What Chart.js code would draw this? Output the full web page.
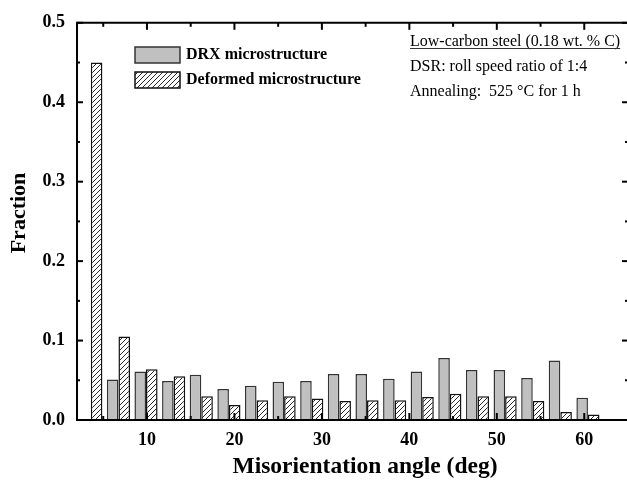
<!DOCTYPE html>
<html><head><meta charset="utf-8">
<script src="https://cdn.jsdelivr.net/npm/chart.js@4"></script>
<style>html,body{margin:0;padding:0;background:#fff;overflow:hidden}
#wrap{position:relative;width:629px;height:487px}</style>
</head><body><div id="wrap"><canvas id="c"></canvas></div>
<script>
// ---- data ----
const binCenters = [3.58, 6.74, 9.89, 13.05, 16.21, 19.37, 22.53, 25.68, 28.84, 32.00, 35.16, 38.32, 41.47, 44.63, 47.79, 50.95, 54.11, 57.26, 60.42];
const drxValues = [null, 0.051, 0.061, 0.049, 0.057, 0.039, 0.043, 0.048, 0.049, 0.058, 0.058, 0.052, 0.061, 0.078, 0.063, 0.063, 0.053, 0.075, 0.028];
const deformedValues = [0.450, 0.105, 0.064, 0.055, 0.030, 0.019, 0.025, 0.030, 0.027, 0.024, 0.025, 0.025, 0.029, 0.033, 0.030, 0.030, 0.024, 0.010, 0.007];
const seriesNames = ['DRX microstructure', 'Deformed microstructure'];
const xTicks = [10, 20, 30, 40, 50, 60];
const xMinorTicks = [5, 15, 25, 35, 45, 55, 65];
const yTicks = [0, 0.1, 0.2, 0.3, 0.4, 0.5];
const yMinorTicks = [0.05, 0.15, 0.25, 0.35, 0.45];
const xTitle = 'Misorientation angle (deg)';
const yTitle = 'Fraction';
const notes = ['Low-carbon steel (0.18 wt. % C)', 'DSR: roll speed ratio of 1:4', 'Annealing:  525 \u00B0C for 1 h'];

const FONT = "'Liberation Serif', 'Times New Roman', serif";
const canvas = document.getElementById('c');
const ctx = canvas.getContext('2d');

function makeHatch() {
  const s = 5;
  const c = document.createElement('canvas');
  c.width = s; c.height = s;
  const g = c.getContext('2d');
  g.fillStyle = '#fff'; g.fillRect(0, 0, s, s);
  g.strokeStyle = '#2a2a2a'; g.lineWidth = 1;
  g.beginPath();
  g.moveTo(0, s); g.lineTo(s, 0);
  g.moveTo(-1, 1); g.lineTo(1, -1);
  g.moveTo(s - 1, s + 1); g.lineTo(s + 1, s - 1);
  g.stroke();
  return ctx.createPattern(c, 'repeat');
}
const hatch = makeHatch();

const decor = {
  id: 'decor',
  afterDatasetsDraw(chart) {
    const c = chart.ctx, a = chart.chartArea;
    const xs = chart.scales.x, ys = chart.scales.y;
    c.save();
    c.strokeStyle = '#000';
    c.lineWidth = 2;
    // frame
    c.beginPath();
    c.moveTo(a.left, a.top); c.lineTo(a.left, a.bottom);
    c.lineTo(a.right, a.bottom); c.lineTo(a.right, a.top); c.closePath();
    c.stroke();
    // ticks (inward on all four sides)
    const tick = (x1, y1, x2, y2) => { c.beginPath(); c.moveTo(x1, y1); c.lineTo(x2, y2); c.stroke(); };
    xTicks.forEach(v => { const p = xs.getPixelForValue(v); tick(p, a.bottom, p, a.bottom - 7); tick(p, a.top, p, a.top + 7); });
    xMinorTicks.forEach(v => { const p = xs.getPixelForValue(v); tick(p, a.bottom, p, a.bottom - 4); tick(p, a.top, p, a.top + 4); });
    yTicks.forEach(v => { const p = ys.getPixelForValue(v); tick(a.left, p, a.left + 6, p); tick(a.right, p, a.right - 6, p); });
    yMinorTicks.forEach(v => { const p = ys.getPixelForValue(v); tick(a.left, p, a.left + 3, p); tick(a.right, p, a.right - 3, p); });
    c.restore();
  },
  afterDraw(chart) {
    const c = chart.ctx, a = chart.chartArea;
    c.save();
    c.fillStyle = '#000';
    // axis titles
    c.font = 'bold 23.5px ' + FONT;
    c.textAlign = 'center'; c.textBaseline = 'middle';
    c.fillText(xTitle, 365, 467);
    c.save();
    c.translate(19, 213); c.rotate(-Math.PI / 2);
    c.font = 'bold 22px ' + FONT;
    c.fillText(yTitle, 0, 0);
    c.restore();
    // legend
    const ds = chart.data.datasets;
    const boxes = [47, 72];
    c.font = 'bold 16px ' + FONT;
    c.textAlign = 'left';
    ds.forEach((d, i) => {
      const y = boxes[i];
      c.fillStyle = d.backgroundColor;
      c.fillRect(135, y, 45, 16);
      c.strokeStyle = d.borderColor; c.lineWidth = 1.5;
      c.strokeRect(135, y, 45, 16);
      c.fillStyle = '#000';
      c.fillText(d.label, 186, y + 8);
    });
    // annotation
    c.font = '16px ' + FONT;
    c.textBaseline = 'alphabetic';
    const base = [46, 71, 96];
    notes.forEach((t, i) => {
      c.fillText(t, 410, base[i]);
      if (i === 0) {
        const w = c.measureText(t).width;
        c.strokeStyle = '#333'; c.lineWidth = 1;
        c.beginPath(); c.moveTo(410, base[i] + 2.5); c.lineTo(410 + w, base[i] + 2.5); c.stroke();
      }
    });
    c.restore();
  }
};

new Chart(ctx, {
  type: 'bar',
  data: {
    datasets: [
      { label: seriesNames[0], data: binCenters.map((x, i) => ({ x: x, y: drxValues[i] })),
        backgroundColor: '#c0c0c0', borderColor: '#333', borderWidth: 1.5,
        categoryPercentage: 0.84, barPercentage: 1 },
      { label: seriesNames[1], data: binCenters.map((x, i) => ({ x: x, y: deformedValues[i] })),
        backgroundColor: hatch, borderColor: '#111', borderWidth: 1.5,
        categoryPercentage: 0.84, barPercentage: 1 }
    ]
  },
  options: {
    responsive: true, maintainAspectRatio: false, animation: false,
    layout: { padding: { top: 15, right: 1, left: 0, bottom: 0 } },
    plugins: { legend: { display: false }, tooltip: { enabled: false } },
    scales: {
      x: {
        type: 'linear', min: 2, max: 65, offset: false,
        grid: { display: false, drawTicks: false, offset: false },
        border: { display: false },
        afterBuildTicks: s => { s.ticks = xTicks.map(v => ({ value: v })); },
        afterFit: s => { s.height = 67; },
        ticks: { padding: 10, color: '#000', autoSkip: false, maxRotation: 0,
                 font: { family: FONT, size: 18, weight: 'bold' } }
      },
      y: {
        min: 0, max: 0.5,
        grid: { display: false, drawTicks: false },
        border: { display: false },
        afterBuildTicks: s => { s.ticks = yTicks.map(v => ({ value: v })); },
        afterFit: s => { s.width = 77; },
        ticks: { padding: 12, color: '#000', callback: v => Number(v).toFixed(1),
                 font: { family: FONT, size: 18, weight: 'bold' } }
      }
    }
  },
  plugins: [decor]
});
</script></body></html>
